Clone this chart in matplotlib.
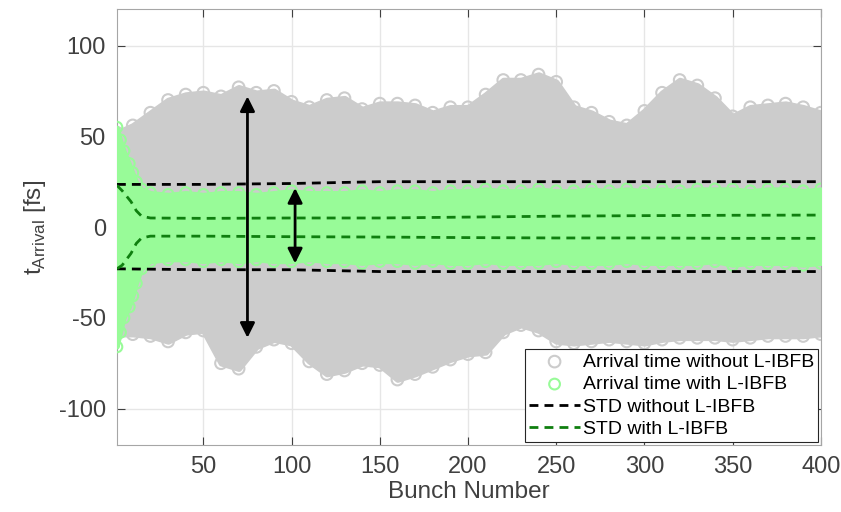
import numpy as np
import matplotlib
matplotlib.use('Agg')
import matplotlib.pyplot as plt

plt.rcParams['font.family'] = ['Liberation Sans', 'DejaVu Sans']
plt.rcParams['mathtext.fontset'] = 'custom'
plt.rcParams['mathtext.rm'] = 'Liberation Sans'

# outer extent of the grey cloud (without L-IBFB), read every 10 bunches
grey_bunch = [1, 10, 20, 30, 40, 50, 60, 70, 80, 90, 100, 110, 120, 130, 140, 150, 160,
              170, 180, 190, 200, 210, 220, 230, 240, 250, 260, 270, 280, 290, 300,
              310, 320, 330, 340, 350, 360, 370, 380, 390, 400]
grey_hi = [52, 56, 63, 70, 73, 74, 72, 77, 74, 75, 69, 66, 70, 71, 65, 68, 68,
           67, 63, 66, 66, 73, 81, 81, 84, 80, 66, 63, 58, 56, 64,
           74, 81, 78, 71, 61, 66, 67, 68, 66, 63]
grey_lo = [-59, -59, -60, -63, -58, -57, -75, -78, -66, -62, -64, -74, -81, -79, -75, -76, -84,
           -81, -77, -73, -70, -69, -58, -54, -57, -63, -64, -63, -62, -63, -64,
           -62, -61, -61, -61, -62, -61, -60, -60, -60, -59]

# extent of the green cloud (with L-IBFB)
green_bunch = [1, 3, 5, 8, 10, 12, 15, 20, 30, 40, 50, 60, 70, 80, 90, 100, 110, 120,
               130, 140, 150, 160, 170, 180, 190, 200, 210, 220, 230, 240, 250, 260,
               270, 280, 290, 300, 310, 320, 330, 340, 350, 360, 370, 380, 390, 400]
green_hi = [55, 48, 42, 35, 30, 25, 21, 19, 18, 19, 18, 19, 19, 18, 19, 20, 19, 19,
            19, 20, 19, 20, 20, 19, 20, 20, 21, 20, 20, 21, 20, 20,
            21, 20, 21, 20, 21, 20, 21, 21, 21, 20, 21, 21, 20, 21]
green_lo = [-66, -58, -50, -44, -38, -31, -23, -19, -18, -18, -19, -18, -19, -18, -19, -19, -18, -19,
            -19, -20, -19, -19, -20, -19, -20, -20, -19, -20, -20, -20, -19, -20,
            -20, -20, -19, -20, -20, -20, -20, -19, -21, -20, -20, -20, -21, -20]

# STD curves
std_bunch = [1, 50, 100, 150, 200, 250, 300, 350, 400]
std_off_hi = [23.5, 23.5, 24, 25, 25, 25, 25, 25, 25]
std_off_lo = [-23, -23.5, -23.5, -24.5, -24.5, -24.5, -24.5, -24.5, -24.5]

std_on_bunch = [1, 4, 9, 12, 15, 20, 50, 100, 150, 200, 250, 300, 350, 400]
std_on_hi = [23, 20, 14, 9, 6, 5, 4.8, 5, 5, 5.5, 6, 6.3, 6.5, 6.6]
std_on_lo = [-23, -21, -14.5, -9, -6, -5, -5, -5.3, -5.5, -5.8, -6, -6, -6.2, -6.2]

GREY = '#cccccc'
LGREEN = '#98fb98'
DGREEN = '#0f7f0f'

fig = plt.figure(figsize=(8.41, 5.12), dpi=100)
ax = fig.add_axes([0.139, 0.131, 0.837, 0.851])

ax.fill_between(grey_bunch, grey_lo, grey_hi, color=GREY, lw=4, edgecolor=GREY, zorder=2)
h_grey = ax.scatter(grey_bunch + grey_bunch, grey_hi + grey_lo, s=70, facecolors='none',
                    edgecolors=GREY, linewidths=1.5, zorder=2,
                    label='Arrival time without L-IBFB')
ax.fill_between(green_bunch, green_lo, green_hi, color=LGREEN, lw=3, edgecolor=LGREEN, zorder=3)
h_green = ax.scatter(green_bunch + green_bunch, green_hi + green_lo, s=60, facecolors='none',
                     edgecolors=LGREEN, linewidths=1.5, zorder=3,
                     label='Arrival time with L-IBFB')

dash = (0, (3.2, 2.2))
l1, = ax.plot(std_bunch, std_off_hi, color='k', lw=2, ls=dash, zorder=4,
              label='STD without L-IBFB')
ax.plot(std_bunch, std_off_lo, color='k', lw=2, ls=dash, zorder=4)
l2, = ax.plot(std_on_bunch, std_on_hi, color=DGREEN, lw=2, ls=dash, zorder=4,
              label='STD with L-IBFB')
ax.plot(std_on_bunch, std_on_lo, color=DGREEN, lw=2, ls=dash, zorder=4)

arrow = dict(arrowstyle='<|-|>', color='k', lw=2, mutation_scale=22, shrinkA=0, shrinkB=0)
ax.annotate('', xy=(75, 72), xytext=(75, -61), arrowprops=arrow, zorder=5)
ax.annotate('', xy=(102, 21.5), xytext=(102, -20), arrowprops=arrow, zorder=5)

ax.set_xlim(1, 400)
ax.set_ylim(-120, 120)
ax.set_xticks(range(50, 401, 50))
ax.set_yticks([-100, -50, 0, 50, 100])
ax.set_yticklabels(['-100', '-50', '0', '50', '100'])
ax.grid(True, color='#e6e6e6', lw=1, zorder=0)
ax.set_axisbelow(True)
for s in ax.spines.values():
    s.set_color('#a6a6a6')
ax.tick_params(direction='in', length=6, top=True, right=True, labelsize=17,
               labelcolor='#404040', color='#404040')
ax.tick_params(axis='x', pad=8)
ax.tick_params(axis='y', pad=8)
ax.set_xlabel('Bunch Number', fontsize=17.5, color='#404040', labelpad=2)
ax.set_ylabel(r't$_{\mathrm{Arrival}}$ [fs]', fontsize=17.5, color='#404040', labelpad=8)

leg = ax.legend(handles=[h_grey, h_green, l1, l2], loc='lower right', fontsize=14,
                frameon=True, fancybox=False, edgecolor='#262626', framealpha=1,
                handlelength=2.6, handletextpad=0.15, borderpad=0.2, labelspacing=0.25,
                borderaxespad=0.15)
leg.get_frame().set_linewidth(0.8)
leg.set_zorder(6)

fig.savefig('out.png', dpi=100)
